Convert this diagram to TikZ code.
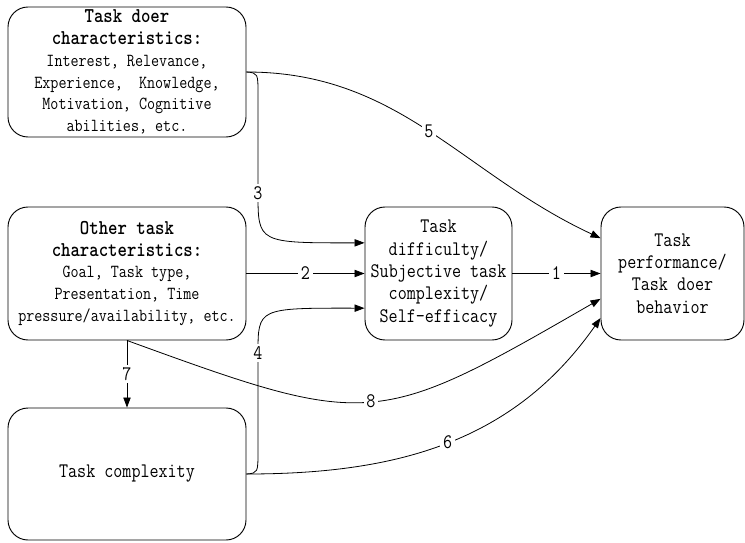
\documentclass[tikz,border=0pt]{standalone}
\usepackage{fontspec}
\newfontfamily\simfont[Extension=.otf,BoldFont=lmmonolt10-bold,FakeStretch=0.85]{lmmono12-regular}
\usetikzlibrary{arrows.meta}

\begin{document}
\begin{tikzpicture}[x=0.75pt,y=-0.75pt]
\tikzstyle{box}=[draw,rounded corners=15pt,align=center,inner sep=2pt,line width=0.7pt]
\tikzstyle{big}=[font=\simfont\fontsize{15.5}{16.8}\selectfont]
\tikzstyle{small}=[font=\simfont\fontsize{13.8}{16.3}\selectfont]
\tikzstyle{lbl}=[fill=white,inner sep=2pt,font=\simfont\fontsize{15.5}{16.8}\selectfont]
\tikzstyle{link}=[-{Triangle[length=7.5pt,width=5.5pt]},line width=0.6pt]
\newcommand{\headtxt}[1]{{\fontsize{15.8}{17.5}\selectfont\bfseries #1}}
\useasboundingbox (0,0) rectangle (745,542);

\node[box,small,minimum width=178.5pt,minimum height=97.5pt] (doer) at (127,72)
  {\headtxt{Task doer}\\ \headtxt{characteristics:}\\ Interest, Relevance,\\ Experience,~ Knowledge,\\ Motivation, Cognitive\\ abilities, etc.};
\node[box,small,minimum width=178.5pt,minimum height=99.75pt] (other) at (127,273.5)
  {\headtxt{Other task}\\ \headtxt{characteristics:}\\ Goal, Task type,\\ Presentation, Time\\ pressure/availability, etc.};
\node[box,big,minimum width=178.5pt,minimum height=99pt] (cplx) at (127,474) {Task complexity};
\node[box,big,minimum width=110.25pt,minimum height=99.75pt] (diff) at (438.5,273.5)
  {Task\\ difficulty/\\ Subjective task\\ complexity/\\ Self-efficacy};
\node[box,big,minimum width=107.25pt,minimum height=99.75pt] (perf) at (672.5,273.5)
  {Task\\ performance/\\ Task doer\\ behavior};

% direct paths
\draw[link] (diff.east) -- node[lbl]{1} (perf.west);
\draw[link] (other.east) -- node[lbl]{2} (diff.west);
\draw[link] (other.south) -- node[lbl]{7} (cplx.north);

% curved paths
\draw[link] (doer.east) .. controls (258,73) .. (258,95) -- (258,193) node[lbl]{3}
  .. controls (258,243) .. ([yshift=23pt]diff.west);
\draw[link] (cplx.east) .. controls (258,473) .. (258,450) -- (258,353) node[lbl]{4}
  .. controls (258,308) .. ([yshift=-26pt]diff.west);
\draw[link] (doer.east) to[out=0,in=155] node[lbl]{5} ([yshift=26.5pt]perf.west);
\draw[link] (cplx.east) to[out=0,in=235] node[lbl]{6} ([yshift=-33.4pt]perf.west);
\draw[link] (other.south) to[out=-20,in=210,looseness=1.4] node[lbl]{8} ([yshift=-19pt]perf.west);
\end{tikzpicture}
\end{document}
